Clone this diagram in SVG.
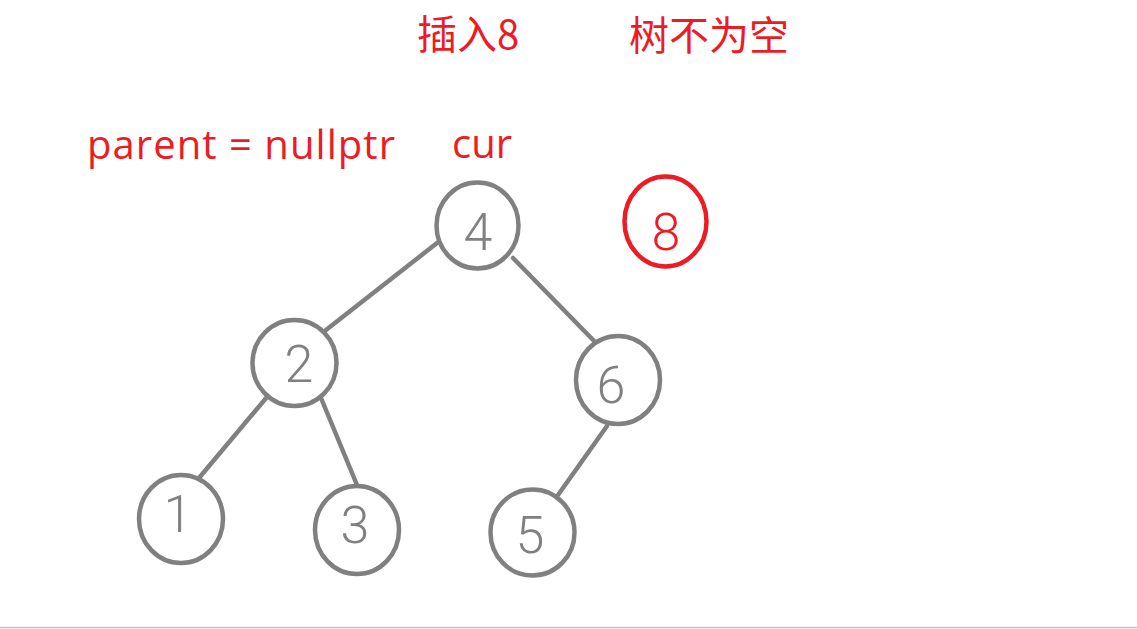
<svg xmlns="http://www.w3.org/2000/svg" width="1137" height="629" viewBox="0 0 1137 629">
<style>
.lbl{font-family:"Open Sans","Noto Sans CJK SC",sans-serif;fill:#ED1C24;font-size:40px}
.cjk{font-family:"Noto Sans CJK SC","Open Sans",sans-serif;fill:#ED1C24;font-size:40px}
.node{fill:#fff;stroke:#808080;stroke-width:4.5}
.red{fill:#fff;stroke:#ED1C24;stroke-width:4.5}
.dig{font-family:Roboto,"Liberation Sans",sans-serif;font-weight:300;font-size:52px;fill:#808080;text-anchor:middle}
.edge{stroke:#808080;stroke-width:4.5;stroke-linecap:round;fill:none}
</style>
<rect width="1137" height="629" fill="#fff"/>
<line x1="0" y1="627.5" x2="1137" y2="627.5" stroke="#c0c0c0" stroke-width="1.5"/>
<g id="titles">
<text class="cjk" x="417" y="49">插入8</text>
<text class="cjk" x="629" y="50">树不为空</text>
<text class="lbl" x="87" y="159" textLength="308" lengthAdjust="spacing">parent = nullptr</text>
<text class="lbl" x="452" y="158">cur</text>
</g>
<g id="connectors">
<line class="edge" x1="437" y1="243" x2="326" y2="330"/>
<line class="edge" x1="513" y1="258" x2="598" y2="345"/>
<line class="edge" x1="267" y1="397" x2="199" y2="478"/>
<line class="edge" x1="321" y1="398" x2="357" y2="485"/>
<line class="edge" x1="607" y1="426" x2="558" y2="495"/>
</g>
<g id="node4"><ellipse class="node" cx="477.5" cy="225.5" rx="41" ry="43"/><text class="dig" x="478" y="250">4</text></g>
<g id="node8"><ellipse class="red" cx="665.5" cy="221.5" rx="41" ry="45"/><text class="dig" x="666" y="250" style="fill:#ED1C24">8</text></g>
<g id="node2"><ellipse class="node" cx="294.5" cy="363" rx="42" ry="43"/><text class="dig" x="299" y="382">2</text></g>
<g id="node6"><ellipse class="node" cx="618" cy="380" rx="42" ry="44"/><text class="dig" x="611" y="403">6</text></g>
<g id="node1"><ellipse class="node" cx="181" cy="519" rx="42" ry="44"/><text class="dig" x="178" y="532">1</text></g>
<g id="node3"><ellipse class="node" cx="357" cy="530" rx="42" ry="44"/><text class="dig" x="355" y="543">3</text></g>
<g id="node5"><ellipse class="node" cx="532.5" cy="532.5" rx="42" ry="43"/><text class="dig" x="530" y="553">5</text></g>
</svg>
